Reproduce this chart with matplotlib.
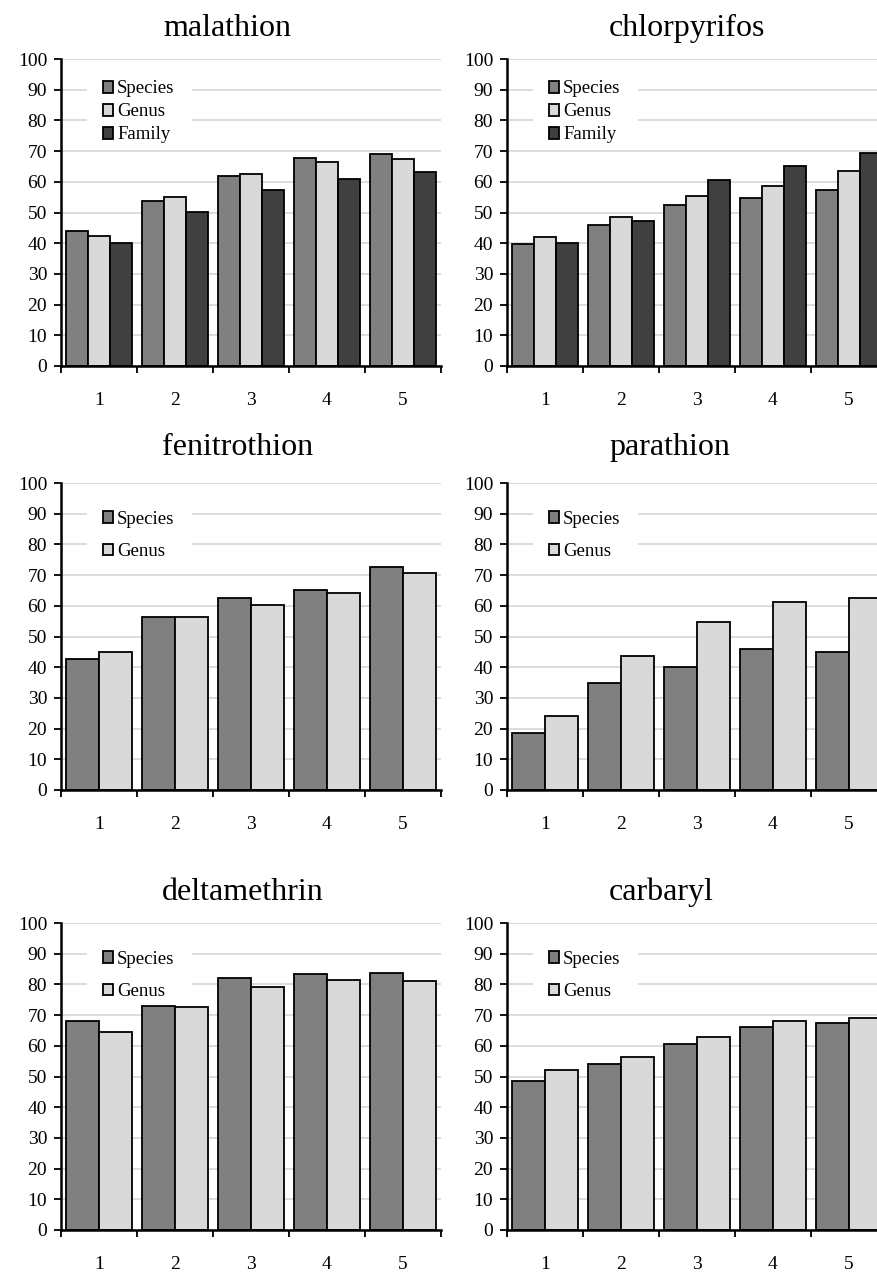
import matplotlib
matplotlib.use("Agg")
import matplotlib.pyplot as plt
from matplotlib.patches import Rectangle
import numpy as np

plt.rcParams['font.family'] = ['Liberation Serif', 'DejaVu Serif']

# ---- data ----
steps = [1, 2, 3, 4, 5]
levels = ["Species", "Genus", "Family"]
level_colors = ["#808080", "#d9d9d9", "#404040"]

titles = ["malathion", "chlorpyrifos", "fenitrothion",
          "parathion", "deltamethrin", "carbaryl"]

malathion_species = [44.0, 53.6, 62.0, 67.7, 69.1]
malathion_genus = [42.2, 55.2, 62.7, 66.6, 67.5]
malathion_family = [40.2, 50.1, 57.2, 61.0, 63.3]

chlorpyrifos_species = [39.6, 46.0, 52.5, 54.7, 57.2]
chlorpyrifos_genus = [42.0, 48.4, 55.5, 58.6, 63.4]
chlorpyrifos_family = [40.1, 47.3, 60.7, 65.3, 69.5]

fenitrothion_species = [42.7, 56.5, 62.4, 65.3, 72.6]
fenitrothion_genus = [44.9, 56.2, 60.4, 64.3, 70.7]

parathion_species = [18.7, 34.8, 40.1, 45.8, 45.0]
parathion_genus = [24.0, 43.5, 54.6, 61.3, 62.7]

deltamethrin_species = [68.2, 73.0, 82.2, 83.5, 83.6]
deltamethrin_genus = [64.5, 72.7, 79.0, 81.3, 81.2]

carbaryl_species = [48.5, 54.2, 60.5, 66.0, 67.4]
carbaryl_genus = [52.0, 56.3, 63.0, 68.2, 69.1]

panels = [
    [malathion_species, malathion_genus, malathion_family],
    [chlorpyrifos_species, chlorpyrifos_genus, chlorpyrifos_family],
    [fenitrothion_species, fenitrothion_genus],
    [parathion_species, parathion_genus],
    [deltamethrin_species, deltamethrin_genus],
    [carbaryl_species, carbaryl_genus],
]

# ---- layout in pixels ----
W, H = 877, 1272
col_left = [61, 507]
row_top = [59, 483, 923]
ax_w, ax_h = 380, 307
title_pos = [(227, 28), (687, 28), (238, 448), (670, 448), (243, 892), (661, 892)]

fig = plt.figure(figsize=(W / 100, H / 100), dpi=100)

for i, series in enumerate(panels):
    r, c = divmod(i, 2)
    ax = fig.add_axes([col_left[c] / W, 1 - (row_top[r] + ax_h) / H, ax_w / W, ax_h / H])
    n = len(series)
    group = 0.86
    bw = group / n
    x = np.array(steps, dtype=float)
    for k, vals in enumerate(series):
        ax.bar(x - group / 2 + bw * (k + 0.5), vals, width=bw, color=level_colors[k],
               edgecolor="black", linewidth=1.3, zorder=3, label=levels[k])

    ax.set_xlim(0.5, 5.5)
    ax.set_ylim(0, 100)
    ax.set_yticks(range(0, 101, 10))
    ax.yaxis.grid(True, color="#d9d9d9", linewidth=1.3, zorder=0)
    ax.set_axisbelow(True)

    # ticks between categories, labels in the middle
    ax.set_xticks(np.arange(0.5, 6, 1.0))
    ax.set_xticklabels([])
    ax.set_xticks(x, minor=True)
    ax.set_xticklabels([str(s) for s in steps], minor=True)
    ax.tick_params(axis="x", which="major", direction="out", length=5, width=1.3)
    ax.tick_params(axis="x", which="minor", length=0, pad=18.5, labelsize=14)
    ax.tick_params(axis="y", direction="out", length=5, width=1.3, labelsize=14, pad=5)

    for side in ["top", "right"]:
        ax.spines[side].set_visible(False)
    for side in ["left", "bottom"]:
        ax.spines[side].set_linewidth(1.8)
        ax.spines[side].set_zorder(4)

    # white box behind the legend hides the grid lines
    ax.add_patch(Rectangle((0.84, 74), 1.38, 22, facecolor="white",
                           edgecolor="none", zorder=1))
    if n == 3:
        ax.legend(loc="upper left", bbox_to_anchor=(0.1105, 0.93), frameon=False,
                  borderpad=0, borderaxespad=0, handlelength=0.55, handleheight=0.55,
                  handletextpad=0.2, labelspacing=0.32, fontsize=13.5)
    else:
        ax.legend(loc="upper left", bbox_to_anchor=(0.1105, 0.91), frameon=False,
                  borderpad=0, borderaxespad=0, handlelength=0.55, handleheight=0.55,
                  handletextpad=0.2, labelspacing=0.82, fontsize=13.5)

    tx, ty = title_pos[i]
    fig.text(tx / W, 1 - ty / H, titles[i], ha="center", va="center", fontsize=23)

fig.savefig("out.png", dpi=100)
